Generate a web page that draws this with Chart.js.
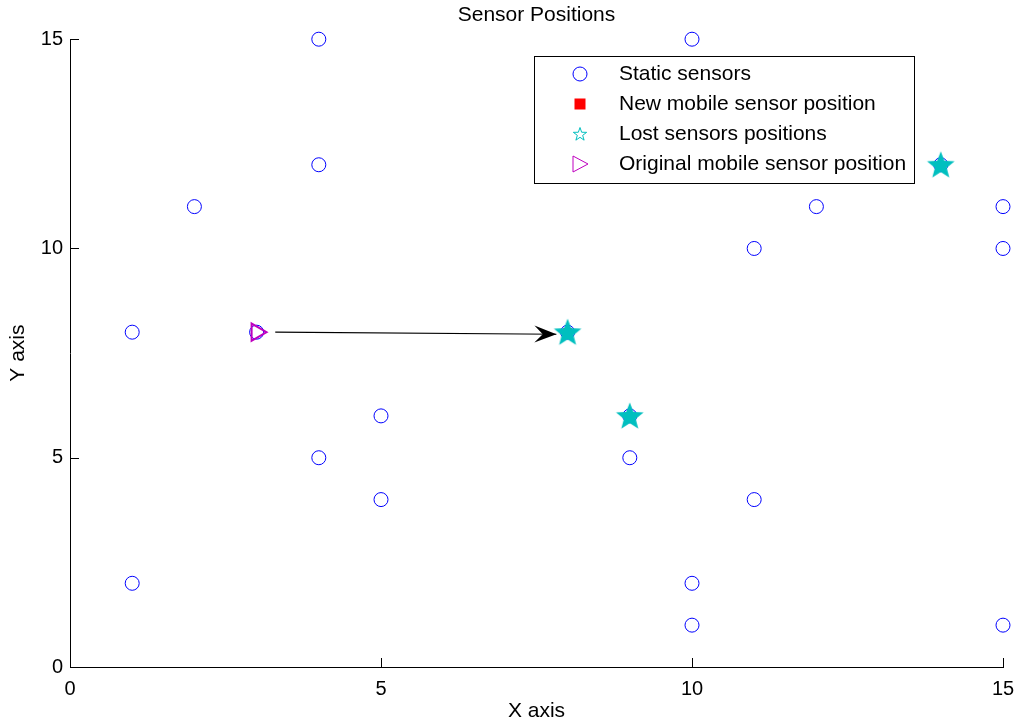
<!DOCTYPE html>
<html><head><meta charset="utf-8">
<script src="https://cdn.jsdelivr.net/npm/chart.js@4/dist/chart.umd.min.js"></script>
<style>html,body{margin:0;padding:0;background:#fff;overflow:hidden}</style>
</head><body>
<canvas id="c" width="1018" height="728"></canvas>
<script>
// ---- data ----
const staticSensorsX = [4, 10, 4, 2, 12, 15, 11, 15, 1, 5, 4, 9, 5, 11, 1, 10, 10, 15, 8, 9, 14, 3];
const staticSensorsY = [15, 15, 12, 11, 11, 11, 10, 10, 8, 6, 5, 5, 4, 4, 2, 2, 1, 1, 8, 6, 12, 8];
const newMobileX = [8];
const newMobileY = [8];
const lostX = [8, 9, 14];
const lostY = [8, 6, 12];
const originalX = [3];
const originalY = [8];
const arrowX = [3.3, 7.82];
const arrowY = [8.0, 7.95];
const tickValues = [0, 5, 10, 15];
const legendLabels = ['Static sensors', 'New mobile sensor position', 'Lost sensors positions', 'Original mobile sensor position'];

const FONT = 'Liberation Sans, Arial, sans-serif';
const BLUE = '#0000ff', RED = '#ff0000', CYAN = '#00bfbf', MAGENTA = '#bf00bf';

function pts(xs, ys) { return xs.map((x, i) => ({x: x, y: ys[i]})); }

function starPath(ctx, cx, cy, R, r) {
  ctx.beginPath();
  for (let i = 0; i < 10; i++) {
    const rad = (i % 2 === 0) ? R : r;
    const a = -Math.PI / 2 + i * Math.PI / 5;
    const px = cx + rad * Math.cos(a), py = cy + rad * Math.sin(a);
    if (i === 0) ctx.moveTo(px, py); else ctx.lineTo(px, py);
  }
  ctx.closePath();
}
const starImg = document.createElement('canvas');
starImg.width = 32; starImg.height = 32;
(function(){
  const g = starImg.getContext('2d');
  starPath(g, 16, 17, 14.5, 6.2);
  g.fillStyle = CYAN; g.fill();
})();

const decorPlugin = {
  id: 'decor',
  afterDatasetsDraw(chart) {
    const ctx = chart.ctx, xs = chart.scales.x, ys = chart.scales.y;
    ctx.save();
    // arrow head
    const x0 = xs.getPixelForValue(arrowX[0]), y0 = ys.getPixelForValue(arrowY[0]);
    const x1 = xs.getPixelForValue(arrowX[1]), y1 = ys.getPixelForValue(arrowY[1]);
    const ang = Math.atan2(y1 - y0, x1 - x0);
    const L = 22, W = 8.5;
    ctx.translate(x1, y1); ctx.rotate(ang);
    ctx.beginPath();
    ctx.moveTo(0, 0);
    ctx.lineTo(-L, -W);
    ctx.lineTo(-L * 0.62, 0);
    ctx.lineTo(-L, W);
    ctx.closePath();
    ctx.fillStyle = '#000'; ctx.fill();
    ctx.restore();

    // inward ticks
    ctx.save();
    ctx.strokeStyle = '#000'; ctx.lineWidth = 1;
    const a = chart.chartArea;
    ctx.beginPath();
    tickValues.forEach(v => {
      const px = Math.round(xs.getPixelForValue(v)) + 0.5;
      ctx.moveTo(px, a.bottom); ctx.lineTo(px, a.bottom - 9);
      const py = Math.round(ys.getPixelForValue(v)) + 0.5;
      ctx.moveTo(a.left, py); ctx.lineTo(a.left + 9, py);
    });
    ctx.stroke();
    ctx.restore();

    // legend box
    ctx.save();
    const bx = 534.5, by = 56.5, bw = 380, bh = 127;
    ctx.fillStyle = '#fff'; ctx.fillRect(bx, by, bw, bh);
    ctx.strokeStyle = '#000'; ctx.lineWidth = 1; ctx.strokeRect(bx, by, bw, bh);
    const rowY = [74, 104, 134, 164], sx = 580, tx = 619;
    ctx.beginPath(); ctx.arc(sx, rowY[0], 7, 0, Math.PI * 2);
    ctx.strokeStyle = BLUE; ctx.lineWidth = 1; ctx.stroke();
    ctx.fillStyle = RED; ctx.fillRect(sx - 5.5, rowY[1] - 5.5, 11, 11);
    starPath(ctx, sx, rowY[2] + 0.5, 7, 2.8);
    ctx.strokeStyle = CYAN; ctx.lineWidth = 1; ctx.stroke();
    ctx.beginPath();
    ctx.moveTo(sx - 7, rowY[3] - 8); ctx.lineTo(sx + 8, rowY[3]); ctx.lineTo(sx - 7, rowY[3] + 8); ctx.closePath();
    ctx.strokeStyle = MAGENTA; ctx.lineWidth = 1; ctx.stroke();
    ctx.fillStyle = '#000'; ctx.font = '21px ' + FONT; ctx.textBaseline = 'middle'; ctx.textAlign = 'left';
    legendLabels.forEach((t, i) => ctx.fillText(t, tx, rowY[i]));
    ctx.restore();
  }
};

const tickFont = {family: FONT, size: 20};
const textFont = {family: FONT, size: 21, weight: 'normal'};

new Chart(document.getElementById('c'), {
  type: 'scatter',
  data: {
    datasets: [
      {label: legendLabels[2], data: pts(lostX, lostY), pointStyle: starImg, order: 0, clip: false},
      {label: legendLabels[3], data: pts(originalX, originalY), pointStyle: 'triangle', rotation: 90,
       pointRadius: 10, borderColor: MAGENTA, backgroundColor: 'rgba(0,0,0,0)', borderWidth: 2, order: 1, clip: false},
      {label: legendLabels[1], data: pts(newMobileX, newMobileY), pointStyle: 'rect', pointRadius: 6,
       borderColor: RED, backgroundColor: RED, borderWidth: 0, order: 2, clip: false},
      {label: legendLabels[0], data: pts(staticSensorsX, staticSensorsY), pointStyle: 'circle', pointRadius: 7,
       borderColor: BLUE, backgroundColor: 'rgba(0,0,0,0)', borderWidth: 1, order: 3, clip: false},
      {type: 'line', label: 'arrow', data: pts(arrowX, arrowY), showLine: true, pointRadius: 0,
       borderColor: '#000', borderWidth: 1.2, fill: false, order: 4, clip: false}
    ]
  },
  options: {
    responsive: false,
    animation: false,
    events: [],
    layout: {padding: {left: 0, right: 15, top: 0, bottom: 0}},
    plugins: {
      legend: {display: false},
      tooltip: {enabled: false},
      title: {display: true, fullSize: false, text: 'Sensor Positions', color: '#000',
        font: textFont, padding: {top: 3, bottom: 11}}
    },
    scales: {
      x: {
        type: 'linear', min: 0, max: 15,
        afterBuildTicks: s => { s.ticks = tickValues.map(v => ({value: v})); },
        afterFit: s => { s.height = 61; s.paddingRight = 0; s.paddingLeft = 0; },
        grid: {display: false, drawTicks: false},
        border: {display: true, color: '#000', width: 1},
        ticks: {color: '#000', font: tickFont, padding: 10, maxRotation: 0, autoSkip: false},
        title: {display: true, text: 'X axis', color: '#000', font: textFont, padding: {top: 0, bottom: 4}}
      },
      y: {
        type: 'linear', min: 0, max: 15,
        afterBuildTicks: s => { s.ticks = tickValues.map(v => ({value: v})); },
        afterFit: s => { s.width = 70; },
        grid: {display: false, drawTicks: false},
        border: {display: true, color: '#000', width: 1},
        ticks: {color: '#000', font: tickFont, padding: 7, autoSkip: false},
        title: {display: true, text: 'Y axis', color: '#000', font: textFont, padding: {top: 6, bottom: 0}}
      }
    }
  },
  plugins: [decorPlugin]
});
</script>
</body></html>
